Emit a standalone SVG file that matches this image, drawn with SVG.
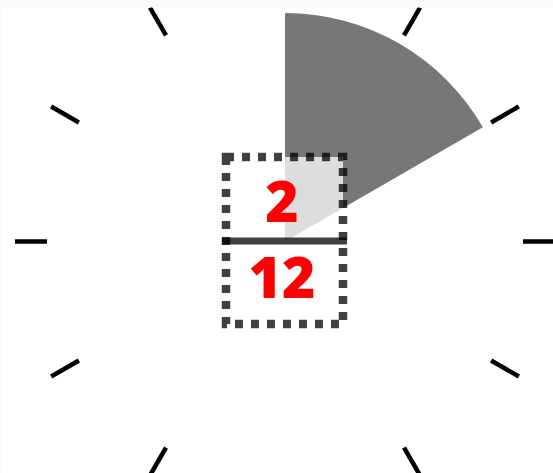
<svg xmlns="http://www.w3.org/2000/svg" width="553" height="473" viewBox="0 0 553 473">
  <style>
    .tick { stroke: #000; stroke-width: 4.5; stroke-linecap: butt; }
    .num { font-family: "Open Sans", "DejaVu Sans", sans-serif; font-weight: 800; font-size: 57px; fill: #ff0000; text-anchor: middle; }
  </style>
  <rect x="0" y="0" width="553" height="473" fill="#ffffff"/>
  <g id="ticks" transform="translate(285,241.5)">
    <line class="tick" x1="0" y1="-238" x2="0" y2="-270" transform="rotate(0)"/>
    <line class="tick" x1="0" y1="-238" x2="0" y2="-270" transform="rotate(30)"/>
    <line class="tick" x1="0" y1="-238" x2="0" y2="-270" transform="rotate(60)"/>
    <line class="tick" x1="0" y1="-238" x2="0" y2="-270" transform="rotate(90)"/>
    <line class="tick" x1="0" y1="-238" x2="0" y2="-270" transform="rotate(120)"/>
    <line class="tick" x1="0" y1="-238" x2="0" y2="-270" transform="rotate(150)"/>
    <line class="tick" x1="0" y1="-238" x2="0" y2="-270" transform="rotate(180)"/>
    <line class="tick" x1="0" y1="-238" x2="0" y2="-270" transform="rotate(210)"/>
    <line class="tick" x1="0" y1="-238" x2="0" y2="-270" transform="rotate(240)"/>
    <line class="tick" x1="0" y1="-238" x2="0" y2="-270" transform="rotate(270)"/>
    <line class="tick" x1="0" y1="-238" x2="0" y2="-270" transform="rotate(300)"/>
    <line class="tick" x1="0" y1="-238" x2="0" y2="-270" transform="rotate(330)"/>
  </g>
  <rect x="0" y="0" width="553" height="7.5" fill="#f9f9f9"/>
  <rect x="0" y="0" width="1" height="473" fill="#f9f9f9"/>
  <g id="sector">
    <path d="M285,241.5 L285,13 A228.5,228.5 0 0 1 482.9,127.25 Z" fill="#777777"/>
  </g>
  <g id="fraction">
    <rect x="226" y="157" width="117" height="167" fill="#ffffff" fill-opacity="0.75" stroke="#000" stroke-opacity="0.75" stroke-width="8.5" stroke-dasharray="8 8"/>
    <line x1="222" y1="241" x2="347" y2="241" stroke="#000" stroke-opacity="0.75" stroke-width="7"/>
    <text class="num" x="282" y="222">2</text>
    <text class="num" x="282" y="298">12</text>
  </g>
</svg>
